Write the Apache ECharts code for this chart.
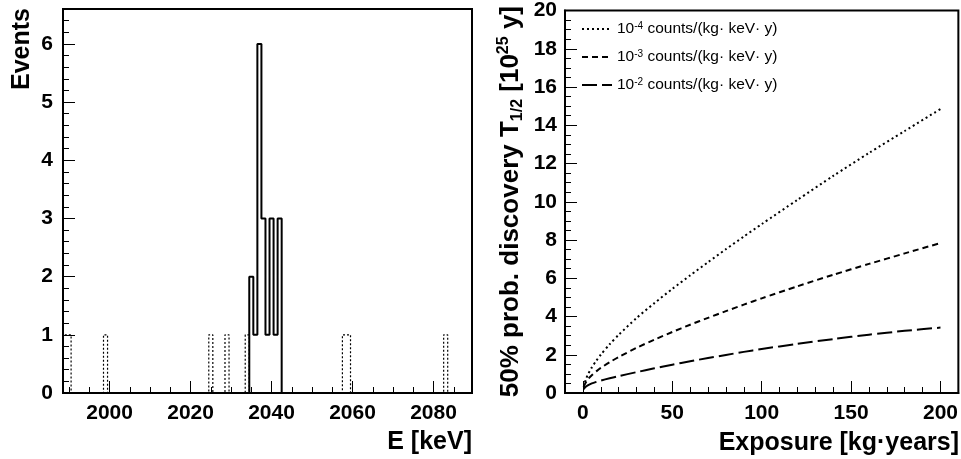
<!DOCTYPE html>
<html><head><meta charset="utf-8">
<script src="https://cdn.jsdelivr.net/npm/echarts@6/dist/echarts.min.js"></script>
<style>html,body{margin:0;padding:0;background:#fff}#c{width:961px;height:459px}</style>
</head><body><div id="c"></div>
<script>
// ---------- Left panel: energy spectrum (1 keV bins, bin centres in keV) ----------
const solidBins   = [2035, 2036, 2037, 2038, 2039, 2040, 2041, 2042];
const solidCounts = [2, 1, 6, 3, 1, 3, 1, 3];
const dashedBins   = [1989, 1990, 1999, 2025, 2029, 2034, 2058, 2059, 2083];
const dashedCounts = [1, 1, 1, 1, 1, 1, 1, 1, 1];
const energyTicks = [2000, 2020, 2040, 2060, 2080];
const energyMinorTicks = [1990, 1995, 2005, 2010, 2015, 2025, 2030, 2035, 2045, 2050, 2055, 2065, 2070, 2075, 2085];
const eventTicks = [0, 1, 2, 3, 4, 5, 6];
const eventMinorTicks = [0.2,0.4,0.6,0.8,1.2,1.4,1.6,1.8,2.2,2.4,2.6,2.8,3.2,3.4,3.6,3.8,4.2,4.4,4.6,4.8,5.2,5.4,5.6,5.8,6.2,6.4];

// ---------- Right panel: 50% discovery half-life vs exposure ----------
const exposure    = [0.5, 1, 2, 3, 5, 7.5, 10, 15, 20, 30, 40, 50, 60, 70, 80, 90, 100, 120, 140, 160, 180, 200];
const halfLife1e4 = [0.31, 0.51, 0.79, 1.0, 1.34, 1.69, 2.0, 2.55, 3.04, 3.92, 4.7, 5.44, 6.15, 6.84, 7.52, 8.18, 8.83, 10.1, 11.35, 12.55, 13.7, 14.85];
const halfLife1e3 = [0.32, 0.44, 0.61, 0.74, 0.93, 1.13, 1.31, 1.61, 1.88, 2.36, 2.79, 3.19, 3.57, 3.93, 4.28, 4.62, 4.95, 5.58, 6.18, 6.75, 7.3, 7.84];
const halfLife1e2 = [0.2, 0.27, 0.35, 0.41, 0.5, 0.58, 0.65, 0.77, 0.88, 1.09, 1.29, 1.48, 1.66, 1.83, 1.99, 2.15, 2.3, 2.57, 2.82, 3.05, 3.25, 3.42];
const exposureTicks = [0, 50, 100, 150, 200];
const exposureMinorTicks = [10,20,30,40,60,70,80,90,110,120,130,140,160,170,180,190];
const halfLifeTicks = [0, 2, 4, 6, 8, 10, 12, 14, 16, 18, 20];
const halfLifeMinorTicks = [0.5,1,1.5,2.5,3,3.5,4.5,5,5.5,6.5,7,7.5,8.5,9,9.5,10.5,11,11.5,12.5,13,13.5,14.5,15,15.5,16.5,17,17.5,18.5,19,19.5];
const legendNames = ['1e-4', '1e-3', '1e-2'];
const legendExps  = ['-4', '-3', '-2'];

const FONT = '"Liberation Sans", Arial, Helvetica, sans-serif';

function histStep(bins, counts, w) {
  const pts = [];
  let prevHi = null;
  bins.forEach((c, i) => {
    const lo = c - w / 2, hi = c + w / 2;
    if (prevHi === null) pts.push([lo, 0]);
    else if (Math.abs(lo - prevHi) > 1e-9) { pts.push([prevHi, 0]); pts.push([lo, 0]); }
    pts.push([lo, counts[i]]);
    pts.push([hi, counts[i]]);
    prevHi = hi;
  });
  pts.push([prevHi, 0]);
  return pts;
}
function zip(xs, ys) { return xs.map((x, i) => [x, ys[i]]); }

const labelStyle = { color: '#000', fontSize: 21, fontWeight: 'bold', fontFamily: FONT, formatter: v => String(v) };

function majorAxis(grid, min, max, ticks, pos, margin) {
  return {
    gridIndex: grid, type: 'value', min: min, max: max, position: pos,
    axisLine: { show: true, onZero: false, lineStyle: { color: '#000', width: 2 } },
    axisTick: { show: true, inside: true, length: 12, customValues: ticks, lineStyle: { color: '#000', width: 1 } },
    axisLabel: Object.assign({ show: true, customValues: ticks, margin: margin }, labelStyle),
    splitLine: { show: false }
  };
}
function minorAxis(grid, min, max, ticks, pos) {
  return {
    gridIndex: grid, type: 'value', min: min, max: max, position: pos,
    axisLine: { show: false, onZero: false },
    axisTick: { show: true, inside: true, length: 6, customValues: ticks, lineStyle: { color: '#000', width: 1 } },
    axisLabel: { show: false },
    splitLine: { show: false }
  };
}

const chart = echarts.init(document.getElementById('c'), null, { renderer: 'canvas' });
chart.setOption({
  animation: false,
  backgroundColor: '#fff',
  grid: [
    { left: 63, top: 9, width: 409, height: 384, show: true, borderColor: '#000', borderWidth: 2, backgroundColor: 'transparent' },
    { left: 565, top: 8, width: 394, height: 385, show: true, borderColor: '#000', borderWidth: 2, backgroundColor: 'transparent' }
  ],
  xAxis: [
    majorAxis(0, 1988.5, 2089.5, energyTicks, 'bottom', 10),
    minorAxis(0, 1988.5, 2089.5, energyMinorTicks, 'bottom'),
    majorAxis(1, -10, 210, exposureTicks, 'bottom', 10),
    minorAxis(1, -10, 210, exposureMinorTicks, 'bottom')
  ],
  yAxis: [
    majorAxis(0, 0, 6.6, eventTicks, 'left', 10),
    minorAxis(0, 0, 6.6, eventMinorTicks, 'left'),
    majorAxis(1, 0, 20, halfLifeTicks, 'left', 8),
    minorAxis(1, 0, 20, halfLifeMinorTicks, 'left')
  ],
  legend: {
    show: true, orient: 'vertical', left: 581, top: 21, padding: 0,
    itemWidth: 30, itemHeight: 14, itemGap: 12,
    data: legendNames,
    itemStyle: { opacity: 0 },
    formatter: function (name) {
      const i = legendNames.indexOf(name);
      return '10{sup|' + legendExps[i] + '} counts/(kg\u00b7 keV\u00b7 y)';
    },
    textStyle: {
      color: '#000', fontSize: 15.5, fontFamily: FONT,
      rich: { sup: { fontSize: 10, verticalAlign: 'top', color: '#000', fontFamily: FONT, padding: [0, 0, 6, 0] } }
    }
  },
  series: [
    { type: 'line', name: 'bkg', xAxisIndex: 0, yAxisIndex: 0, data: histStep(dashedBins, dashedCounts, 1),
      symbol: 'none', color: '#000', lineStyle: { color: '#000', width: 1.2, type: [2, 2] }, z: 2, silent: true },
    { type: 'line', name: 'roi', xAxisIndex: 0, yAxisIndex: 0, data: histStep(solidBins, solidCounts, 1),
      symbol: 'none', color: '#000', lineStyle: { color: '#000', width: 2 }, z: 3, silent: true },
    { type: 'line', name: legendNames[0], xAxisIndex: 2, yAxisIndex: 2, data: zip(exposure, halfLife1e4),
      symbol: 'none', color: '#000', smooth: 0.25, lineStyle: { color: '#000', width: 2, type: [2, 3] } },
    { type: 'line', name: legendNames[1], xAxisIndex: 2, yAxisIndex: 2, data: zip(exposure, halfLife1e3),
      symbol: 'none', color: '#000', smooth: 0.25, lineStyle: { color: '#000', width: 2, type: [6, 4] } },
    { type: 'line', name: legendNames[2], xAxisIndex: 2, yAxisIndex: 2, data: zip(exposure, halfLife1e2),
      symbol: 'none', color: '#000', smooth: 0.25, lineStyle: { color: '#000', width: 2, type: [15, 5] } }
  ],
  graphic: [
    { type: 'text', x: 22, y: 8, rotation: Math.PI / 2,
      style: { text: 'Events', fill: '#000', fontSize: 25, fontWeight: 'bold', fontFamily: FONT,
               textAlign: 'right', textVerticalAlign: 'middle', align: 'right', verticalAlign: 'middle' } },
    { type: 'text', x: 472, y: 442,
      style: { text: 'E [keV]', fill: '#000', fontSize: 25, fontWeight: 'bold', fontFamily: FONT,
               textAlign: 'right', textVerticalAlign: 'middle', align: 'right', verticalAlign: 'middle' } },
    { type: 'text', x: 959, y: 443,
      style: { text: 'Exposure [kg\u00b7years]', fill: '#000', fontSize: 25, fontWeight: 'bold', fontFamily: FONT,
               textAlign: 'right', textVerticalAlign: 'middle', align: 'right', verticalAlign: 'middle' } },
    { type: 'text', x: 511, y: 6, rotation: Math.PI / 2,
      style: {
        text: '{m|50% prob. discovery T}{sub|1/2}{m| [10}{sup|25}{m| y]}',
        fill: '#000', fontSize: 26, fontWeight: 'bold', fontFamily: FONT,
        textAlign: 'right', textVerticalAlign: 'middle', align: 'right', verticalAlign: 'middle',
        rich: {
          m: { fontSize: 26, fontWeight: 'bold', fontFamily: FONT, fill: '#000', lineHeight: 30 },
          sub: { fontSize: 16, fontWeight: 'bold', fontFamily: FONT, fill: '#000', verticalAlign: 'bottom', lineHeight: 16 },
          sup: { fontSize: 16, fontWeight: 'bold', fontFamily: FONT, fill: '#000', verticalAlign: 'top', lineHeight: 16 }
        }
      } }
  ]
});
</script>
</body></html>
